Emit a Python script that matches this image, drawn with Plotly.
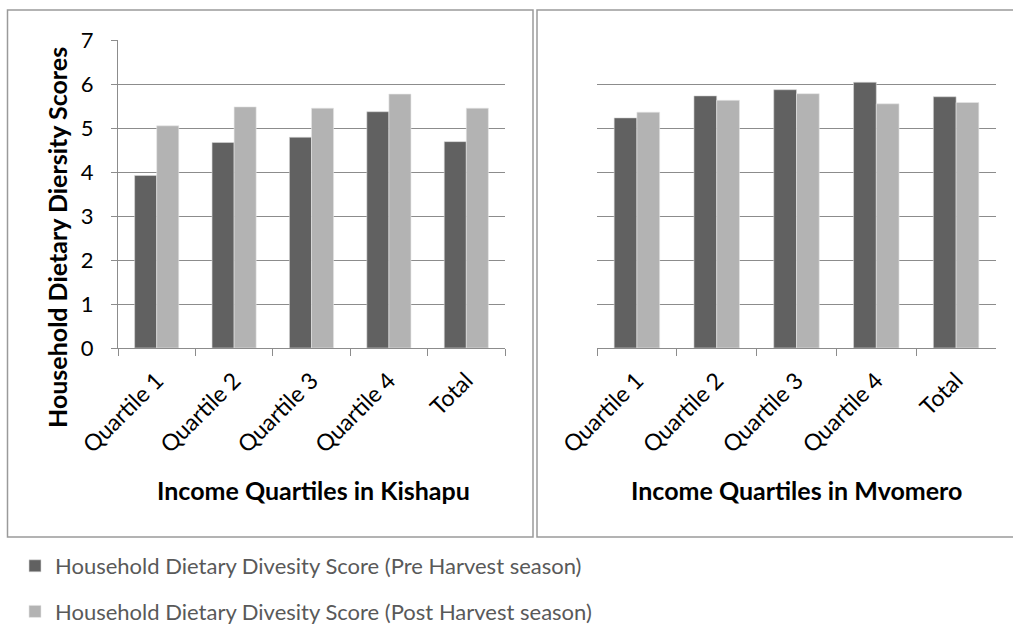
import plotly.graph_objects as go

categories = ["Quartile 1", "Quartile 2", "Quartile 3", "Quartile 4", "Total"]
kishapu_pre = [3.92, 4.67, 4.79, 5.37, 4.69]
kishapu_post = [5.05, 5.48, 5.45, 5.77, 5.45]
mvomero_pre = [5.23, 5.73, 5.87, 6.04, 5.71]
mvomero_post = [5.36, 5.63, 5.78, 5.55, 5.58]
y_ticks = [0, 1, 2, 3, 4, 5, 6, 7]

pre_name = "Household Dietary Divesity Score (Pre Harvest season)"
post_name = "Household Dietary Divesity Score (Post Harvest season)"
PRE_C = "#616161"
POST_C = "#b3b3b3"
FONT = "Lato"
W, H = 1013, 626


def fx(px):
    return px / W


def fy(py):
    return 1 - py / H


fig = go.Figure()
fig.add_trace(go.Bar(x=categories, y=kishapu_pre, name=pre_name, marker=dict(color=PRE_C, line=dict(width=0.6, color="#d9d9d9")),
                     xaxis="x", yaxis="y", legendgroup="pre", showlegend=True))
fig.add_trace(go.Bar(x=categories, y=kishapu_post, name=post_name, marker=dict(color=POST_C, line=dict(width=0.6, color="#e6e6e6")),
                     xaxis="x", yaxis="y", legendgroup="post", showlegend=True))
fig.add_trace(go.Bar(x=categories, y=mvomero_pre, name=pre_name, marker=dict(color=PRE_C, line=dict(width=0.6, color="#d9d9d9")),
                     xaxis="x2", yaxis="y2", legendgroup="pre", showlegend=False))
fig.add_trace(go.Bar(x=categories, y=mvomero_post, name=post_name, marker=dict(color=POST_C, line=dict(width=0.6, color="#e6e6e6")),
                     xaxis="x2", yaxis="y2", legendgroup="post", showlegend=False))

grid_c = "#8c8c8c"
xcommon = dict(type="category", showline=True, linecolor=grid_c, linewidth=1, ticks="outside", tickson="boundaries",
               ticklen=7, tickcolor=grid_c, tickangle=-45, tickfont=dict(family=FONT, size=23, color="#000000"),
               ticklabelstandoff=9, showgrid=False, fixedrange=True, automargin=False)
ycommon = dict(range=[0, 7], tickvals=y_ticks, showgrid=True, gridcolor=grid_c, gridwidth=1, zeroline=False,
               fixedrange=True, automargin=False)

fig.update_layout(
    width=W, height=H,
    margin=dict(l=0, r=0, t=0, b=0, autoexpand=False),
    paper_bgcolor="white", plot_bgcolor="white",
    barmode="group", bargap=0.43, bargroupgap=0,
    font=dict(family=FONT, color="#000000"),
    xaxis=dict(domain=[fx(118), fx(505)], anchor="y", **xcommon),
    xaxis2=dict(domain=[fx(597), fx(996)], anchor="y2", **xcommon),
    yaxis=dict(domain=[fy(348), fy(40)], anchor="x", showline=True, linecolor=grid_c, linewidth=1, ticks="outside", ticklen=6,
               tickcolor=grid_c, tickfont=dict(family=FONT, size=22, color="#000000"), ticklabelstandoff=13, **ycommon),
    yaxis2=dict(domain=[fy(348), fy(40)], anchor="x2", showline=False, ticks="", showticklabels=False, **ycommon),
    legend=dict(x=fx(15), y=fy(633), xanchor="left", yanchor="bottom", orientation="v", tracegroupgap=14,
                font=dict(family=FONT, size=22, color="#595959"), bgcolor="rgba(0,0,0,0)"),
    shapes=[
        dict(type="rect", xref="paper", yref="paper", x0=fx(7.5), x1=fx(533), y0=fy(537), y1=fy(10),
             line=dict(color="#9a9a9a", width=1.5), layer="below"),
        dict(type="rect", xref="paper", yref="paper", x0=fx(537), x1=fx(1030), y0=fy(537), y1=fy(10),
             line=dict(color="#9a9a9a", width=1.5), layer="below"),
    ],
    annotations=[
        dict(text="<b>Household Dietary Diersity Scores</b>", xref="paper", yref="paper", x=fx(57), y=fy(238),
             textangle=-90, showarrow=False, font=dict(family=FONT, size=25, color="#000000"), xanchor="center", yanchor="middle"),
        dict(text="<b>Income Quartiles in Kishapu</b>", xref="paper", yref="paper", x=fx(313), y=fy(490),
             showarrow=False, font=dict(family=FONT, size=25, color="#000000"), xanchor="center", yanchor="middle"),
        dict(text="<b>Income Quartiles in Mvomero</b>", xref="paper", yref="paper", x=fx(796), y=fy(490),
             showarrow=False, font=dict(family=FONT, size=25, color="#000000"), xanchor="center", yanchor="middle"),
    ],
)

fig.write_html("out.html", config={"displayModeBar": False},
               post_script="document.body.style.margin='0px';document.body.style.overflow='hidden';")
